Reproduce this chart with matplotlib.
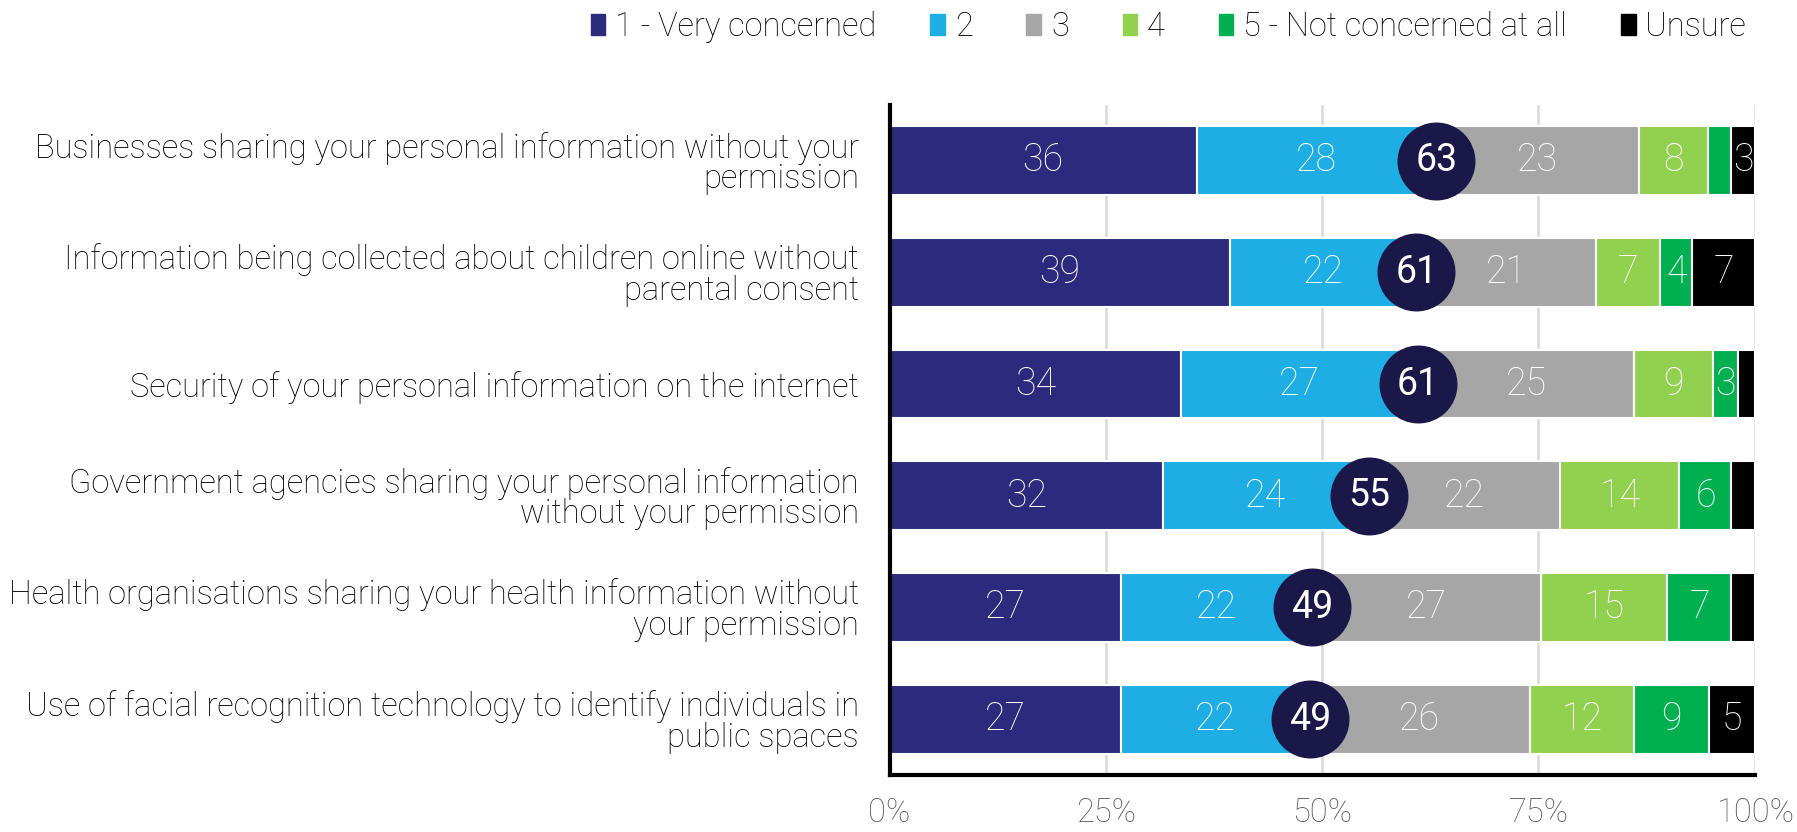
import matplotlib
matplotlib.use("Agg")
from matplotlib import pyplot as plt, patches
import numpy as np

plt.rcParams["font.family"] = ["Roboto", "DejaVu Sans"]

categories = [
    "Businesses sharing your personal information without your\npermission",
    "Information being collected about children online without\nparental consent",
    "Security of your personal information on the internet",
    "Government agencies sharing your personal information\nwithout your permission",
    "Health organisations sharing your health information without\nyour permission",
    "Use of facial recognition technology to identify individuals in\npublic spaces",
]
series = ["1 - Very concerned", "2", "3", "4", "5 - Not concerned at all", "Unsure"]

# shares (%), one list per response
very_concerned = [35.5, 39.3, 33.7, 31.6, 26.8, 26.7]
level_2 = [27.7, 21.6, 27.4, 23.8, 22.0, 21.9]
level_3 = [23.4, 20.7, 25.0, 22.1, 26.5, 25.4]
level_4 = [8.0, 7.5, 9.1, 13.8, 14.6, 12.1]
not_concerned = [2.7, 3.7, 2.9, 6.0, 7.4, 8.6]
unsure = [2.7, 7.2, 1.9, 2.7, 2.7, 5.3]

# printed labels (None = no label shown)
labels_1 = [36, 39, 34, 32, 27, 27]
labels_2 = [28, 22, 27, 24, 22, 22]
labels_3 = [23, 21, 25, 22, 27, 26]
labels_4 = [8, 7, 9, 14, 15, 12]
labels_5 = [None, 4, 3, 6, 7, 9]
labels_unsure = [3, 7, None, None, None, 5]
net_concerned = [63, 61, 61, 55, 49, 49]

colors = ["#2b2a7c", "#1eaee4", "#a6a6a6", "#92d050", "#00b050", "#000000"]

values = [very_concerned, level_2, level_3, level_4, not_concerned, unsure]
labels = [labels_1, labels_2, labels_3, labels_4, labels_5, labels_unsure]

fig = plt.figure(figsize=(17.97, 8.32), dpi=100)
ax = fig.add_axes([0.495, 0.0685, 0.4815, 0.8055])

y = np.arange(len(categories))
left = np.zeros(len(categories))
for vals, labs, color, name in zip(values, labels, colors, series):
    vals = np.array(vals)
    ax.barh(y, vals, left=left, height=0.615, color=color, edgecolor="white",
            linewidth=1.5, label=name, zorder=2)
    for yi, (lv, w, lab) in enumerate(zip(left, vals, labs)):
        if lab is None:
            continue
        ax.text(lv + w / 2, yi, str(lab), ha="center", va="center", color="white",
                fontsize=27, fontweight="light", zorder=3)
    left += vals

# net concern circles at the end of segment 2
net_x = np.array(very_concerned) + np.array(level_2)
ax.scatter(net_x, y, s=3150, color="#1a1849", zorder=4, linewidths=0)
for xi, yi, lab in zip(net_x, y, net_concerned):
    ax.text(xi, yi, str(lab), ha="center", va="center", color="white",
            fontsize=27, fontweight="normal", zorder=5)

ax.set_xlim(0, 100)
ax.set_ylim(len(categories) - 0.5, -0.5)
ax.set_xticks([0, 25, 50, 75, 100])
ax.set_xticklabels(["0%", "25%", "50%", "75%", "100%"])
ax.set_yticks(y)
ax.set_yticklabels(categories, fontsize=23.5, fontweight="light", ha="right",
                   linespacing=0.95)
ax.tick_params(axis="y", length=0, pad=22, colors="#000000")
ax.tick_params(axis="x", length=0, pad=16, labelsize=23.5, colors="#595959")
for lab in ax.get_xticklabels():
    lab.set_fontweight("light")

ax.grid(axis="x", color="#d9d9d9", linewidth=1.8, zorder=0)
ax.set_axisbelow(True)
for s in ["top", "right"]:
    ax.spines[s].set_visible(False)
for s in ["left", "bottom"]:
    ax.spines[s].set_linewidth(3)
    ax.spines[s].set_color("black")

handles = [patches.Patch(color=c, label=n) for c, n in zip(colors, series)]
fig.legend(handles=handles, loc="upper right", bbox_to_anchor=(0.988, 1.022),
           ncol=6, frameon=False, handlelength=0.45, handleheight=0.6,
           handletextpad=0.3, columnspacing=1.65, prop={"size": 23.5, "weight": "light"})

fig.savefig("out.png", dpi=100)
